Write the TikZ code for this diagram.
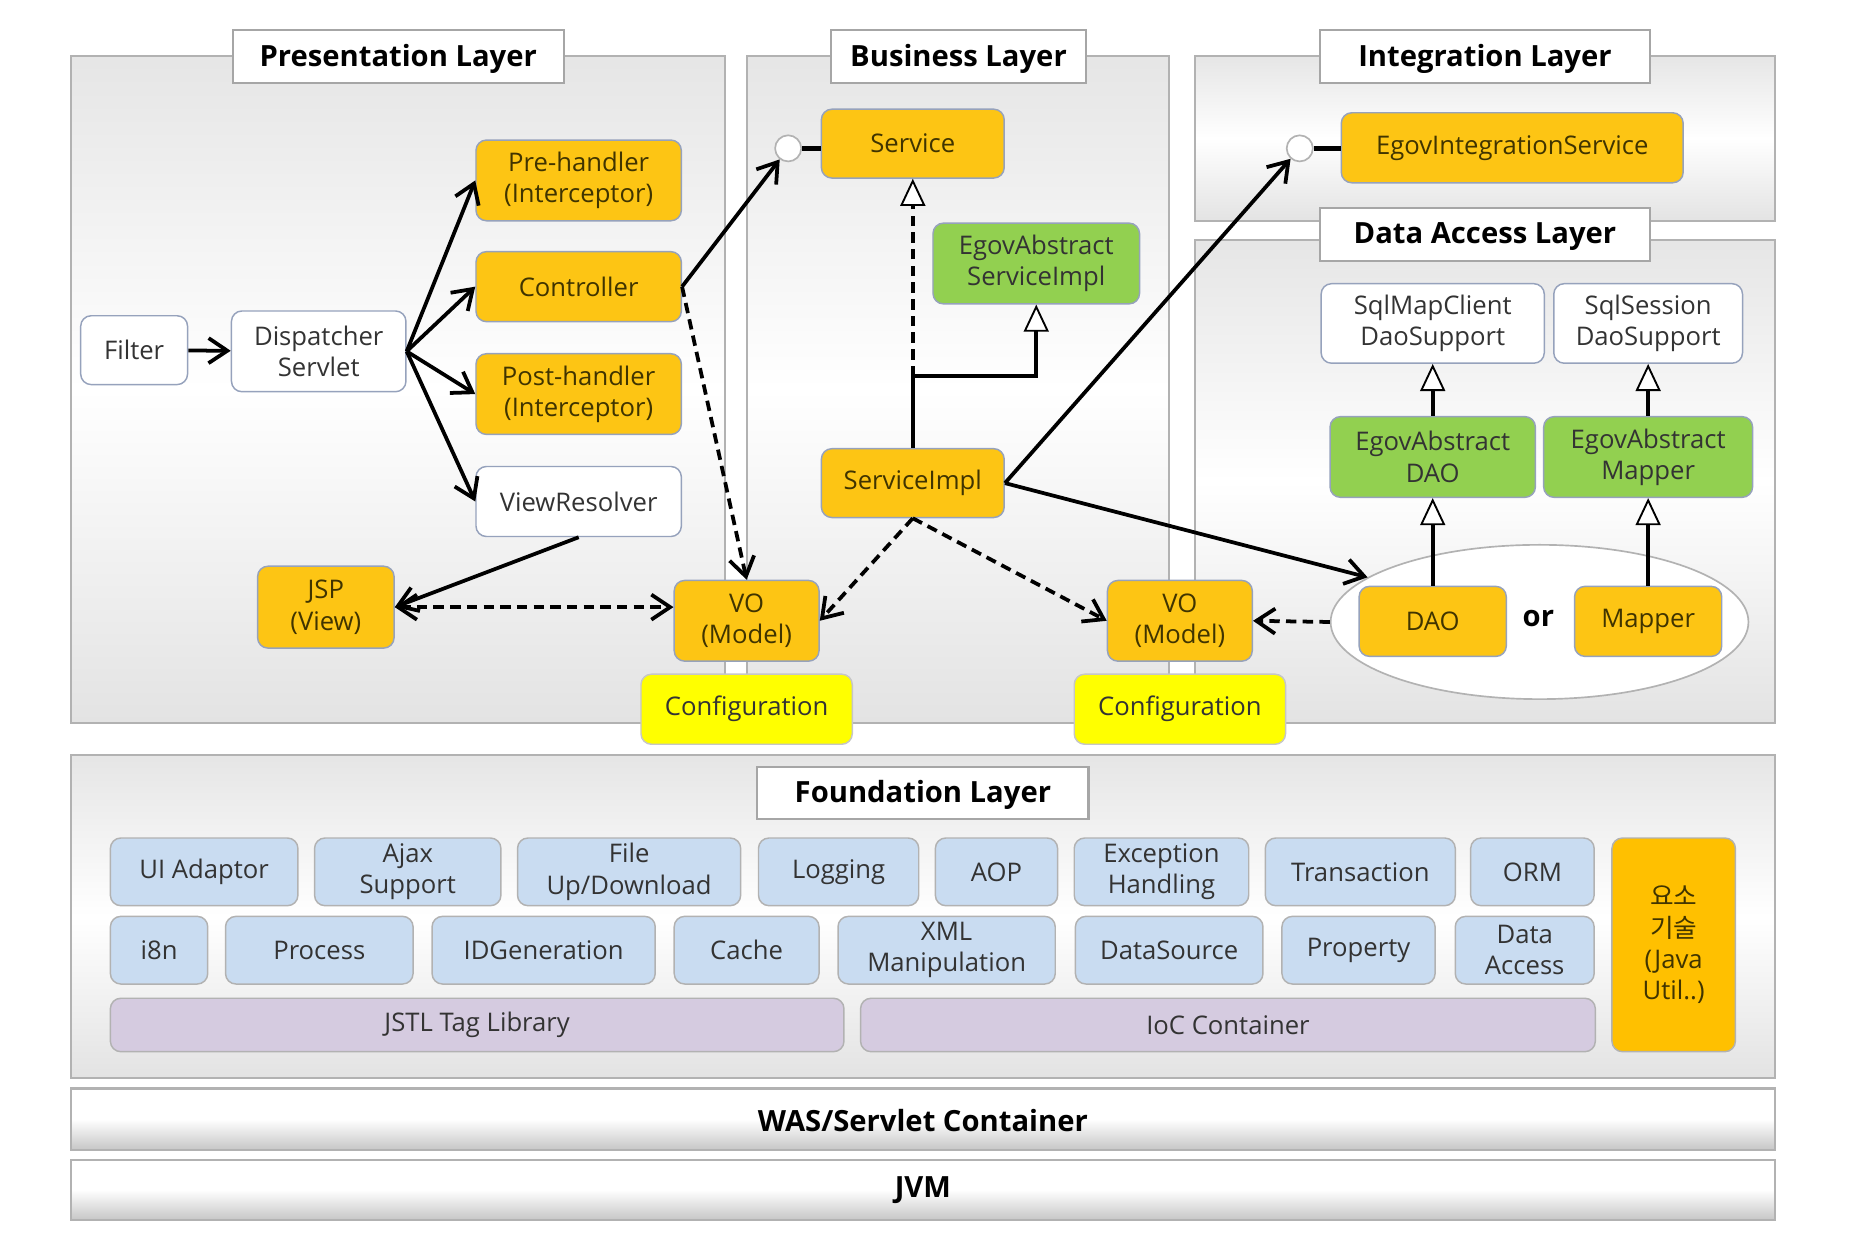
\documentclass[tikz,border=0pt]{standalone}
\usepackage{fontspec}
\setmainfont{Open Sans}
\newfontfamily\krfont{Noto Sans CJK KR}
\usetikzlibrary{shapes.geometric, arrows.meta}
\newdimen\px \px=0.2mm
\definecolor{egovorange}{RGB}{253,197,20}
\definecolor{egovgreen}{RGB}{146,208,80}
\definecolor{egovyellow}{RGB}{255,255,0}
\definecolor{egovblue}{RGB}{201,220,241}
\definecolor{egovlilac}{RGB}{213,203,224}
\definecolor{egovutil}{RGB}{255,192,0}
\definecolor{edge}{RGB}{150,162,188}
\definecolor{ink}{RGB}{64,52,0}
\tikzstyle{frame} = [draw=gray!60, line width=1pt, top color=gray!20, bottom color=gray!22, middle color=white]
\tikzstyle{base} = [draw=gray!60, line width=1pt, top color=white, bottom color=gray!45, middle color=white]
\tikzstyle{layer} = [rectangle, draw=gray!70, line width=1pt, fill=white, inner sep=0pt, text depth=0.25ex, font=\fontsize{14}{16}\selectfont\bfseries]
\tikzstyle{box} = [rectangle, rounded corners=5pt, draw=edge, line width=0.7pt, align=center, inner sep=0pt, font=\fontsize{12.3}{15}\selectfont]
\tikzstyle{gold} = [box, fill=egovorange, text=ink]
\tikzstyle{leaf} = [box, fill=egovgreen, text=black!80]
\tikzstyle{plain} = [box, fill=white, text=black!80]
\tikzstyle{config} = [box, fill=egovyellow, draw=gray!45, text=black!80]
\tikzstyle{fbox} = [box, fill=egovblue, draw=gray!60, text=black!80]
\tikzstyle{lbox} = [box, fill=egovlilac, draw=gray!60, text=black!80]
\tikzstyle{port} = [circle, draw=gray!60, fill=white, line width=0.8pt, minimum size=22*\px, inner sep=0pt]
\tikzstyle{arrow} = [line width=1.8pt, ->]
\tikzstyle{dasharrow} = [arrow, dash pattern=on 5pt off 3pt]
\tikzstyle{inherit} = [line width=1.8pt, -{Triangle[fill=white, length=13pt, width=12pt, line width=0.9pt]}]
\tikzset{wh/.style 2 args={minimum width=#1*\px, minimum height=#2*\px}}

\begin{document}
\begin{tikzpicture}[x=0.2mm, y=-0.2mm, >={Straight Barb[length=9pt, width=12pt]}]
\useasboundingbox (0,0) rectangle (1565.3,1041.3);
% layer frames
\draw[frame] (60,47) rectangle (611,609);
\draw[frame] (629,47) rectangle (985,609);
\draw[frame] (1007,47) rectangle (1495,186);
\draw[frame] (1007,202) rectangle (1495,609);
\draw[frame] (60,636) rectangle (1495,908);
\draw[base] (60,917) rectangle (1495,969);
\draw[base] (60,977) rectangle (1495,1028);
\node[layer, wh={279}{45}] (presl) at (335.5,47.5) {Presentation Layer};
\node[layer, wh={215}{45}] (busl) at (807.5,47.5) {Business Layer};
\node[layer, wh={278}{45}] (intl) at (1251,47.5) {Integration Layer};
\node[layer, wh={278}{45}] (dal) at (1251,197.5) {Data Access Layer};
\node[layer, wh={279}{44}] (foundl) at (777.5,668) {Foundation Layer};
\node[font=\fontsize{14}{16}\selectfont\bfseries] (was) at (777.5,944) {WAS/Servlet Container};
\node[font=\fontsize{14}{16}\selectfont\bfseries] (jvm) at (777.5,1003) {JVM};

% presentation
\node[plain, wh={90}{58}] (filter) at (113,295) {Filter};
\node[plain, wh={147}{68}] (disp) at (268.5,296) {Dispatcher\\Servlet};
\node[gold, wh={173}{68}] (pre) at (487.5,152) {Pre-handler\\(Interceptor)};
\node[gold, wh={173}{59}] (ctrl) at (487.5,241.5) {Controller};
\node[gold, wh={173}{68}] (post) at (487.5,332) {Post-handler\\(Interceptor)};
\node[plain, wh={173}{59}] (vres) at (487.5,422.5) {ViewResolver};
\node[gold, wh={115}{69}] (jsp) at (274.5,511.5) {JSP\\(View)};
\node[gold, wh={122}{68}] (vo1) at (629,523) {VO\\(Model)};
\node[config, wh={178}{59}] (conf1) at (629,597.5) {Configuration};

% business
\node[gold, wh={154}{58}] (service) at (769,121) {Service};
\node[port] (svcport) at (664,125) {};
\node[leaf, wh={174}{68}] (absimpl) at (873,222) {EgovAbstract\\ServiceImpl};
\node[gold, wh={154}{58}] (simpl) at (769,407) {ServiceImpl};
\node[gold, wh={122}{68}] (vo2) at (994,523) {VO\\(Model)};
\node[config, wh={178}{59}] (conf2) at (994,597.5) {Configuration};

% integration / data access
\node[gold, wh={288}{59}] (integ) at (1274,124.5) {EgovIntegrationService};
\node[port] (intport) at (1095,125) {};
\node[plain, wh={188}{67}] (sqlmap) at (1207,272.5) {SqlMapClient\\DaoSupport};
\node[plain, wh={159}{67}] (sqlsess) at (1388.5,272.5) {SqlSession\\DaoSupport};
\node[leaf, wh={173}{68}] (absdao) at (1207,385) {EgovAbstract\\DAO};
\node[leaf, wh={176}{68}] (absmap) at (1388.5,385) {EgovAbstract\\Mapper};
\node[ellipse, draw=gray!60, fill=white, line width=0.8pt, wh={352}{130}] (ell) at (1297,524) {};
\node[gold, wh={124}{59}] (dao) at (1207,523.5) {DAO};
\node[gold, wh={124}{59}] (mapper) at (1388.5,523.5) {Mapper};
\node[font=\fontsize{14}{16}\selectfont\bfseries] (or) at (1296,521) {or};

% foundation
\node[fbox, wh={158}{57}] (uiad) at (172,734.5) {UI Adaptor};
\node[fbox, wh={157}{57}] (ajax) at (343.5,734.5) {Ajax\\Support};
\node[fbox, wh={188}{57}] (updown) at (530,734.5) {File\\Up/Download};
\node[fbox, wh={135}{57}] (logging) at (706.5,734.5) {Logging};
\node[fbox, wh={103}{57}] (aop) at (839.5,734.5) {AOP};
\node[fbox, wh={147}{57}] (except) at (978.5,734.5) {Exception\\Handling};
\node[fbox, wh={160}{57}] (trans) at (1146,734.5) {Transaction};
\node[fbox, wh={104}{57}] (orm) at (1291,734.5) {ORM};
\node[fbox, wh={82}{57}] (i8n) at (134,800.5) {i8n};
\node[fbox, wh={158}{57}] (process) at (269,800.5) {Process};
\node[fbox, wh={188}{57}] (idgen) at (458,800.5) {IDGeneration};
\node[fbox, wh={122}{57}] (cache) at (629,800.5) {Cache};
\node[fbox, wh={183}{57}] (xml) at (797.5,800.5) {XML\\Manipulation};
\node[fbox, wh={158}{57}] (dsrc) at (985,800.5) {DataSource};
\node[fbox, wh={129}{57}] (prop) at (1144.5,800.5) {Property};
\node[fbox, wh={117}{57}] (dacc) at (1284.5,800.5) {Data\\Access};
\node[lbox, wh={618}{45}] (jstl) at (402,863.5) {JSTL Tag Library};
\node[lbox, wh={619}{45}] (ioc) at (1034.5,863.5) {IoC Container};
\node[box, fill=egovutil, draw=gray!60, text=ink, wh={104}{180}] (util) at (1410,796) {{\krfont 요소}\\{\krfont 기술}\\(Java\\Util..)};

% connectors
\draw[arrow] (filter) -- (disp);
\draw[arrow] (disp.east) -- (pre.west);
\draw[arrow] (disp.east) -- (ctrl.west);
\draw[arrow] (disp.east) -- (post.west);
\draw[arrow] (disp.east) -- (vres.west);
\draw[arrow] (ctrl.east) -- (svcport);
\draw[dasharrow] (ctrl.east) -- (vo1.north);
\draw[arrow] (vres.south) -- (jsp.east);
\draw[dasharrow, <->] (jsp.east) -- (jsp.east -| vo1.west);
\draw[line width=2.4pt] (svcport) -- (svcport -| service.west);
\coordinate (fork) at (769,317);
\draw[line width=1.8pt] (simpl.north) -- (fork);
\draw[inherit, dash pattern=on 5pt off 3pt] (fork) -- (service.south);
\draw[inherit] (fork) -| (absimpl.south);
\draw[dasharrow] (simpl.south) -- (vo1.east);
\draw[dasharrow] (simpl.south) -- (vo2.west);
\draw[arrow] (simpl.east) -- (intport);
\draw[arrow] (simpl.east) -- (ell);
\draw[dasharrow] (ell.west) -- (vo2.east);
\draw[line width=2.4pt] (intport) -- (intport -| integ.west);
\draw[inherit] (dao) -- (absdao);
\draw[inherit] (absdao) -- (sqlmap);
\draw[inherit] (mapper) -- (absmap);
\draw[inherit] (absmap) -- (sqlsess);
\end{tikzpicture}
\end{document}
